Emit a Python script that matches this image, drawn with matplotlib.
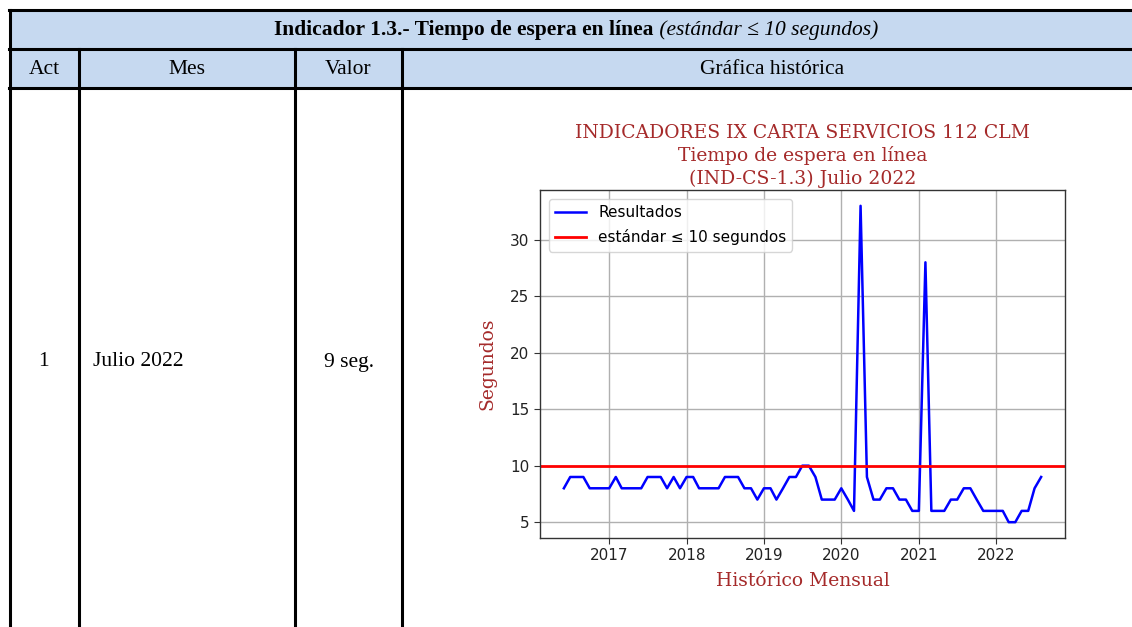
import matplotlib
matplotlib.use("Agg")
import matplotlib.pyplot as plt
import pandas as pd
from matplotlib.lines import Line2D
from matplotlib.patches import Rectangle

# ---------------- data ----------------
start_month = "2016-05-31"
values = [8, 9, 9, 9, 8, 8, 8, 8, 9, 8, 8, 8, 8, 9, 9, 9, 8, 9, 8, 9,
          9, 8, 8, 8, 8, 9, 9, 9, 8, 8, 7, 8, 8, 7, 8, 9, 9, 10, 10, 9,
          7, 7, 7, 8, 7, 6, 33, 9, 7, 7, 8, 8, 7, 7, 6, 6, 28, 6, 6, 6,
          7, 7, 8, 8, 7, 6, 6, 6, 6, 5, 5, 6, 6, 8, 9]
standard = 10
dates = pd.date_range(start_month, periods=len(values), freq="ME")

header_bold = "Indicador 1.3.- Tiempo de espera en línea"
header_italic = " (estándar ≤ 10 segundos)"
col_headers = ["Act", "Mes", "Valor", "Gráfica histórica"]
row_values = ["1", "Julio 2022", "9 seg."]
chart_title = "INDICADORES IX CARTA SERVICIOS 112 CLM\nTiempo de espera en línea\n(IND-CS-1.3) Julio 2022"
series_label = "Resultados"
standard_label = "estándar ≤ 10 segundos"

# ---------------- figure ----------------
W, H = 1132, 627
fig = plt.figure(figsize=(W / 100, H / 100), dpi=100)
bg = fig.add_axes([0, 0, 1, 1])
bg.set_xlim(0, W)
bg.set_ylim(H, 0)
bg.axis("off")

blue_fill = "#C6D9F0"
y_top, y_mid, y_row = 10, 49, 88
x_left, x_cols = 10, [79, 295, 402]
x_right = W + 5

bg.add_patch(Rectangle((x_left, y_top), x_right - x_left, y_row - y_top,
                       facecolor=blue_fill, edgecolor="none", zorder=1))
lw = 2.2
for yy in (y_top, y_mid, y_row):
    bg.add_line(Line2D([x_left - 1, x_right], [yy, yy], color="black", lw=lw, zorder=3))
bg.add_line(Line2D([x_left, x_left], [y_top, H + 5], color="black", lw=lw, zorder=3))
for xx in x_cols:
    bg.add_line(Line2D([xx, xx], [y_mid, H + 5], color="black", lw=lw, zorder=3))

serif = ["Liberation Serif", "DejaVu Serif"]
fs_tab = 15.5

# header with bold + italic parts, centered together
t1 = bg.text(0, 30, header_bold, fontsize=fs_tab, fontweight="bold",
             family=serif, va="center", ha="left", zorder=4)
t2 = bg.text(0, 30, header_italic, fontsize=fs_tab, fontstyle="italic",
             family=serif, va="center", ha="left", zorder=4)
fig.canvas.draw()
r = fig.canvas.get_renderer()
w1 = t1.get_window_extent(r).width
w2 = t2.get_window_extent(r).width
cx = 576
x0 = cx - (w1 + w2) / 2
t1.set_x(x0)
t2.set_x(x0 + w1)

col_edges = [x_left] + x_cols + [W + 1]
for i, lab in enumerate(col_headers):
    c = (col_edges[i] + col_edges[i + 1]) / 2
    if i == 3:
        c = 772
    bg.text(c, 69, lab, fontsize=fs_tab, family=serif, ha="center", va="center", zorder=4)

bg.text(43, 362, row_values[0], fontsize=fs_tab,
        family=serif, ha="center", va="center")
bg.text(93, 362, row_values[1], fontsize=fs_tab, family=serif, ha="left", va="center")
bg.text((col_edges[2] + col_edges[3]) / 2, 362, row_values[2], fontsize=fs_tab,
        family=serif, ha="center", va="center")

# ---------------- chart ----------------
ax_l, ax_r, ax_t, ax_b = 540, 1065, 190, 538
ax = fig.add_axes([ax_l / W, (H - ax_b) / H, (ax_r - ax_l) / W, (ax_b - ax_t) / H])
ax.plot(dates, values, color="blue", lw=1.8, label=series_label)
ax.axhline(standard, color="red", lw=2.0, label=standard_label)
ax.grid(True, color="#b0b0b0", lw=1.0)
ax.set_axisbelow(True)
for s in ax.spines.values():
    s.set_color("#333333")
    s.set_linewidth(1.0)
ax.tick_params(labelsize=11, colors="#333333", labelcolor="#222222", length=4)
ax.set_yticks([5, 10, 15, 20, 25, 30])
red_brown = "#A52A2A"
ax.set_title(chart_title, color=red_brown, family="DejaVu Serif", fontsize=13.5,
             linespacing=1.33, pad=4)
ax.set_xlabel("Histórico Mensual", color=red_brown, family="DejaVu Serif", fontsize=13.5,
              labelpad=6)
ax.set_ylabel("Segundos", color=red_brown, family="DejaVu Serif", fontsize=13.5,
              labelpad=10)
leg = ax.legend(loc="upper left", fontsize=11, framealpha=0.8, borderaxespad=0.6,
                labelspacing=0.6)

fig.savefig("out.png", dpi=100)
